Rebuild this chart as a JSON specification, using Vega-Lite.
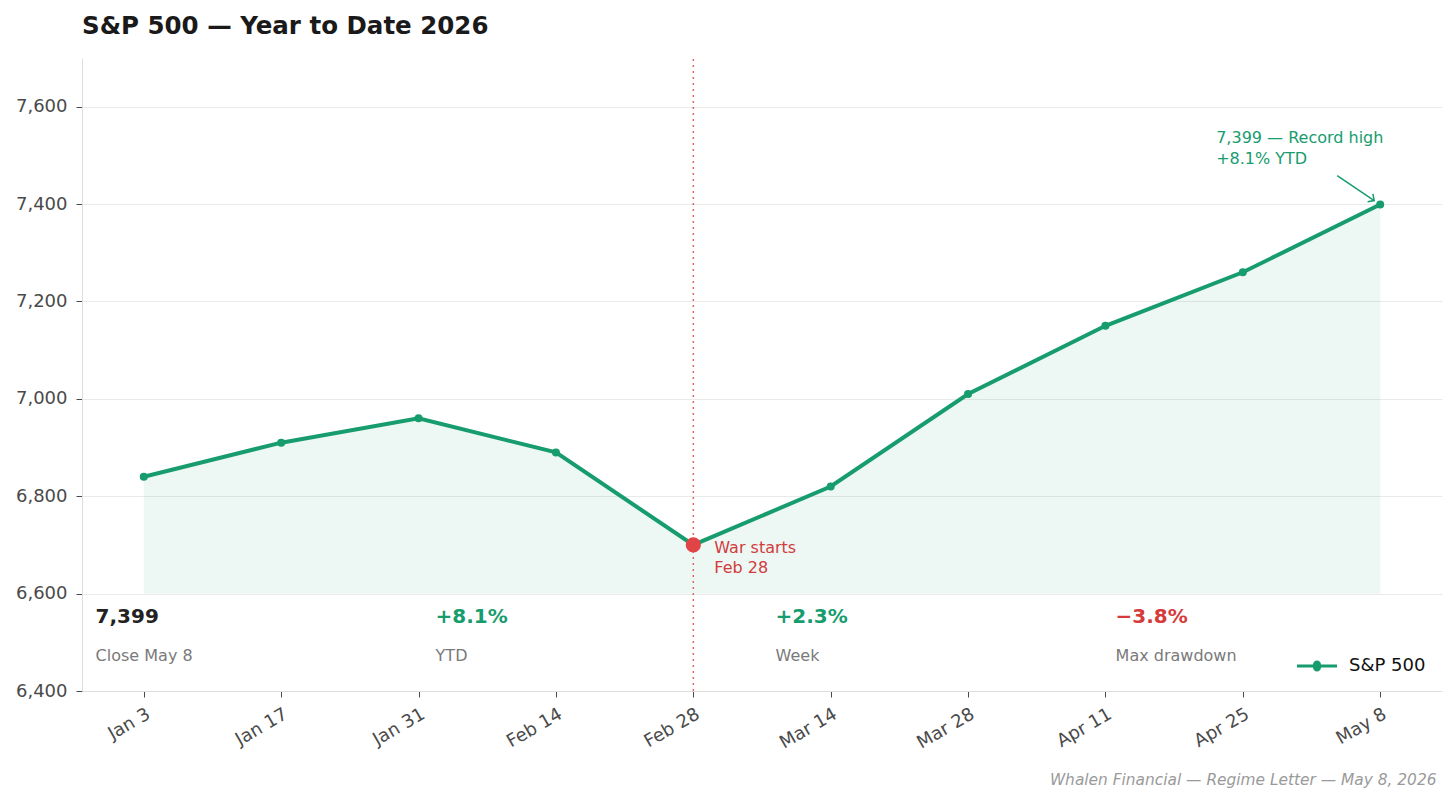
{
  "$schema": "https://vega.github.io/schema/vega-lite/v6.json",
  "width": 1360,
  "height": 633,
  "autosize": "none",
  "padding": {"left": 82, "top": 58, "right": 14, "bottom": 112},
  "background": "white",
  "title": {
    "text": "S&P 500 — Year to Date 2026",
    "anchor": "start",
    "frame": "group",
    "font": "DejaVu Sans",
    "fontSize": 24.5,
    "fontWeight": "bold",
    "color": "#1a1a1a",
    "offset": 18
  },
  "config": {
    "font": "DejaVu Sans",
    "view": {"stroke": null},
    "axis": {
      "labelFont": "DejaVu Sans",
      "labelFontSize": 18,
      "labelColor": "#4a4a4a",
      "domainColor": "#dddddd",
      "tickColor": "#4a4a4a",
      "gridColor": "#eaeaea",
      "titleFont": "DejaVu Sans"
    }
  },
  "resolve": {"scale": {"x": "independent", "color": "independent"}},
  "layer": [
    {
      "data": {
        "values": [
          {"i": 0, "date": "Jan 3", "close": 6840},
          {"i": 1, "date": "Jan 17", "close": 6910},
          {"i": 2, "date": "Jan 31", "close": 6960},
          {"i": 3, "date": "Feb 14", "close": 6890},
          {"i": 4, "date": "Feb 28", "close": 6700},
          {"i": 5, "date": "Mar 14", "close": 6820},
          {"i": 6, "date": "Mar 28", "close": 7010},
          {"i": 7, "date": "Apr 11", "close": 7150},
          {"i": 8, "date": "Apr 25", "close": 7260},
          {"i": 9, "date": "May 8", "close": 7399}
        ]
      },
      "encoding": {
        "x": {
          "field": "i",
          "type": "quantitative",
          "scale": {"domain": [-0.45, 9.45], "nice": false, "zero": false},
          "axis": {
            "values": [0, 1, 2, 3, 4, 5, 6, 7, 8, 9],
            "labelExpr": "['Jan 3','Jan 17','Jan 31','Feb 14','Feb 28','Mar 14','Mar 28','Apr 11','Apr 25','May 8'][datum.value]",
            "labelAngle": -30,
            "labelAlign": "right",
            "labelBaseline": "top",
            "labelPadding": 8,
            "tickSize": 6,
            "grid": false,
            "title": "Whalen Financial — Regime Letter — May 8, 2026",
            "titleAnchor": "end",
            "titleAlign": "right",
            "titleX": 1354,
            "titleY": 88,
            "titleBaseline": "middle",
            "titleFontStyle": "italic",
            "titleFontWeight": "normal",
            "titleFontSize": 15.4,
            "titleColor": "#9a9a9a"
          }
        },
        "y": {
          "field": "close",
          "type": "quantitative",
          "scale": {"domain": [6400, 7700], "nice": false, "zero": false},
          "axis": {
            "values": [6400, 6600, 6800, 7000, 7200, 7400, 7600],
            "format": ",d",
            "tickSize": 6,
            "labelPadding": 9,
            "title": null
          }
        }
      },
      "layer": [
        {
          "mark": {"type": "area", "color": "#179c6e", "opacity": 0.08},
          "encoding": {"y2": {"datum": 6600}}
        },
        {
          "mark": {"type": "rule", "color": "#d94848", "strokeDash": [2, 4], "strokeWidth": 1.4, "opacity": 0.85},
          "transform": [{"filter": "datum.i == 4"}],
          "encoding": {"y": {"datum": 6400}, "y2": {"datum": 7700}}
        },
        {
          "mark": {"type": "line", "color": "#179c6e", "strokeWidth": 4}
        },
        {
          "mark": {"type": "point", "filled": true, "opacity": 1, "size": 65},
          "encoding": {
            "color": {
              "datum": "S&P 500",
              "type": "nominal",
              "scale": {"domain": ["S&P 500"], "range": ["#179c6e"]},
              "legend": {
                "title": null,
                "orient": "bottom-right",
                "offset": 16,
                "symbolType": "M-1,-0.08 H-0.2 A0.2,0.2 0 0,1 0.2,-0.08 H1 V0.08 H0.2 A0.2,0.2 0 0,1 -0.2,0.08 H-1 Z",
                "symbolSize": 1600,
                "symbolStrokeWidth": 0,
                "symbolOpacity": 1,
                "labelFontSize": 18,
                "labelColor": "#111111",
                "labelOffset": 12
              }
            }
          }
        },
        {
          "mark": {"type": "point", "filled": true, "opacity": 1, "size": 230, "color": "#e04444"},
          "transform": [{"filter": "datum.i == 4"}]
        },
        {
          "mark": {"type": "text", "align": "left", "baseline": "top", "dx": 21, "dy": -5, "fontSize": 16, "lineHeight": 20, "color": "#d23c3c"},
          "transform": [{"filter": "datum.i == 4"}],
          "encoding": {"text": {"value": ["War starts", "Feb 28"]}}
        },
        {
          "mark": {"type": "text", "align": "left", "baseline": "top", "dx": -164, "dy": -75, "fontSize": 16, "lineHeight": 21, "color": "#179c6e"},
          "transform": [{"filter": "datum.i == 9"}],
          "encoding": {"text": {"value": ["7,399 — Record high", "+8.1% YTD"]}}
        },
        {
          "mark": {"type": "rule", "color": "#179c6e", "strokeWidth": 1.5, "xOffset": -43, "yOffset": -29, "x2Offset": -6, "y2Offset": -4},
          "transform": [{"filter": "datum.i == 9"}],
          "encoding": {"x2": {"field": "i"}, "y2": {"field": "close"}}
        },
        {
          "mark": {"type": "point", "shape": "M-1,1 L0,0 L1,1", "filled": false, "strokeWidth": 1.5, "size": 90, "opacity": 1, "color": "#179c6e", "angle": 124, "xOffset": -6, "yOffset": -4},
          "transform": [{"filter": "datum.i == 9"}]
        }
      ]
    },
    {
      "data": {
        "values": [
          {"slot": 0, "value": "7,399", "label": "Close May 8", "tone": "flat"},
          {"slot": 1, "value": "+8.1%", "label": "YTD", "tone": "up"},
          {"slot": 2, "value": "+2.3%", "label": "Week", "tone": "up"},
          {"slot": 3, "value": "−3.8%", "label": "Max drawdown", "tone": "down"}
        ]
      },
      "encoding": {
        "x": {
          "field": "slot",
          "type": "quantitative",
          "scale": {"domain": [-0.04, 3.96], "nice": false, "zero": false},
          "axis": null
        }
      },
      "layer": [
        {
          "mark": {"type": "text", "align": "left", "baseline": "middle", "fontSize": 20, "fontWeight": "bold"},
          "encoding": {
            "y": {"datum": 6552},
            "text": {"field": "value"},
            "color": {
              "field": "tone",
              "type": "nominal",
              "scale": {"domain": ["flat", "up", "down"], "range": ["#222222", "#179c6e", "#d63b3b"]},
              "legend": null
            }
          }
        },
        {
          "mark": {"type": "text", "align": "left", "baseline": "middle", "fontSize": 16, "color": "#7a7a7a"},
          "encoding": {
            "y": {"datum": 6472},
            "text": {"field": "label"}
          }
        }
      ]
    }
  ]
}
